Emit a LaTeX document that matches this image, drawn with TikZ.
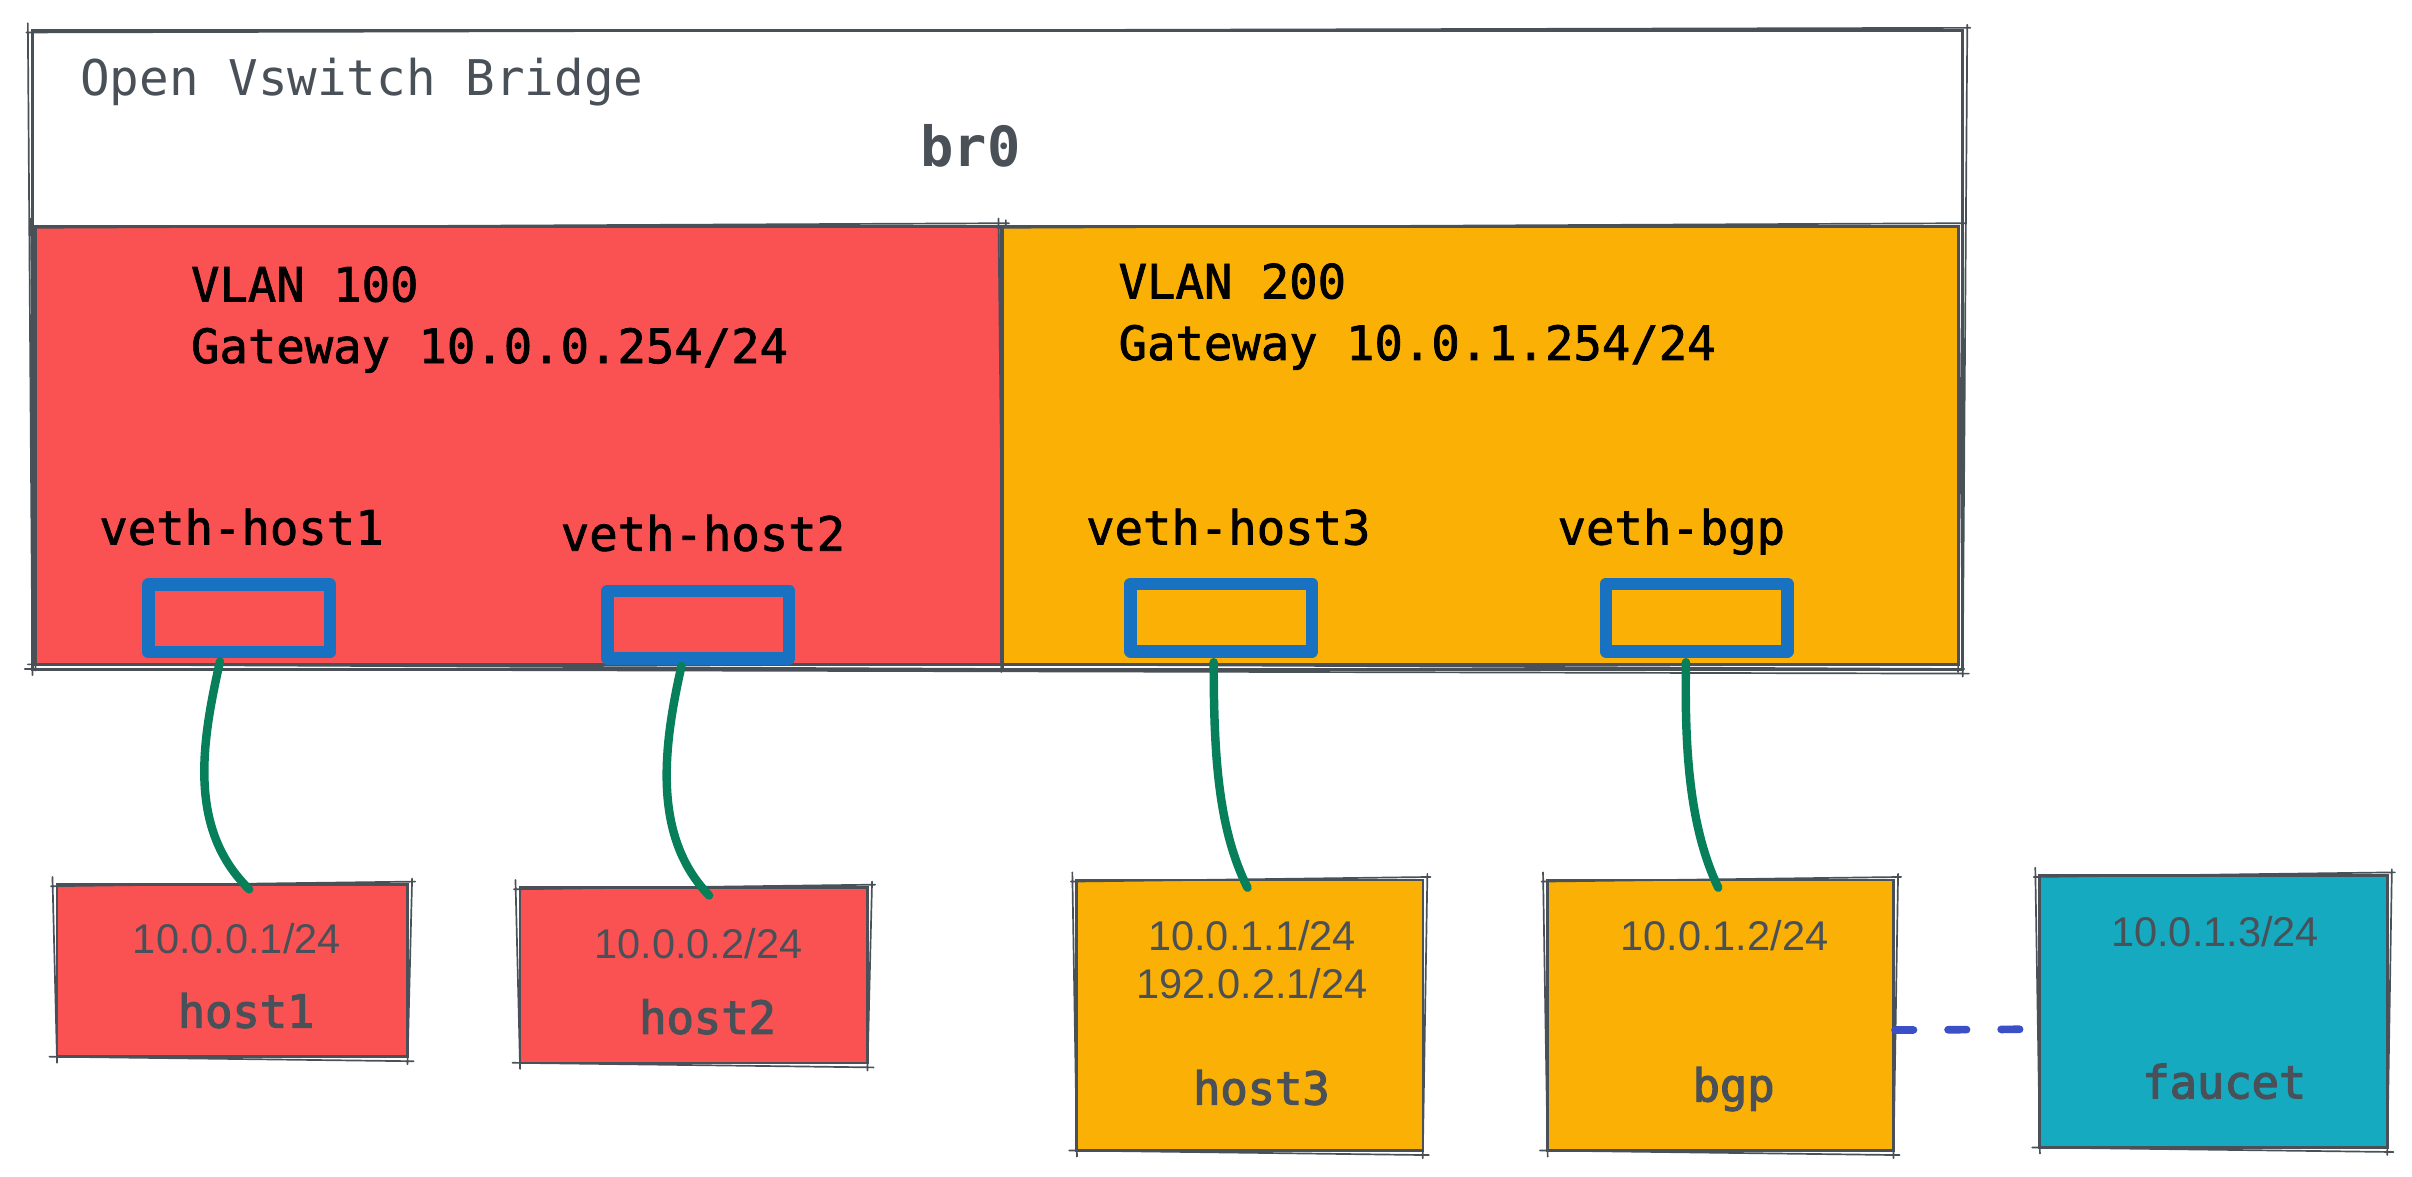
\documentclass[tikz,border=0pt]{standalone}
\usepackage{fontspec}
\setmainfont{Liberation Sans}
\setmonofont{DejaVu Sans Mono}
\newfontfamily\medmono[FakeBold=1.6]{DejaVu Sans Mono}
\newfontfamily\semimono[FakeBold=2.8]{DejaVu Sans Mono}
\definecolor{skgray}{HTML}{495057}
\definecolor{skred}{HTML}{FA5252}
\definecolor{skorange}{HTML}{FAB005}
\definecolor{skteal}{HTML}{15AABF}
\definecolor{skblue}{HTML}{1971C2}
\definecolor{skgreen}{HTML}{087F5B}
\definecolor{skdash}{HTML}{3B4FC7}
\newcommand{\skrect}[2][skgray]{%
  \draw[draw=#1, line width=1.1pt, line cap=round]
    ([shift={(-3,2)}]#2.north west) -- ([shift={(4,-1)}]#2.north east)
    ([shift={(2,-3)}]#2.north east) -- ([shift={(-1,4)}]#2.south east)
    ([shift={(3,2)}]#2.south east) -- ([shift={(-4,-1)}]#2.south west)
    ([shift={(1,3)}]#2.south west) -- ([shift={(-2,-4)}]#2.north west);}
\begin{document}
\begin{tikzpicture}[x=1pt,y=-1pt,
  box/.style={draw=skgray, line width=1.8pt, rectangle, inner sep=0pt},
  vethbox/.style={draw=skblue, line width=8pt, line join=round, rectangle, inner sep=0pt, minimum width=118pt, minimum height=44pt},
  monotxt/.style={font=\medmono\fontsize{30.7}{40}\selectfont, text=black, inner sep=0pt},
  hostname/.style={font=\semimono\fontsize{29.5}{36}\selectfont, text=skgray, inner sep=0pt, anchor=base},
  iptxt/.style={font=\fontsize{27}{32}\selectfont, text=skgray, inner sep=0pt, anchor=base},
  wire/.style={draw=skgreen, line width=5.5pt, line cap=round},
  link/.style={draw=skdash, line width=5pt, line cap=round, dash pattern=on 12pt off 22.5pt}]
\useasboundingbox (0,0) rectangle (1568,765);
\fill[white] (0,0) rectangle (1568,765);

% bridge
\node[box, fill=white, minimum width=1255pt, minimum height=415pt] (br) at (648.5,227.5) {};
\skrect{br}
\node[font=\ttfamily\fontsize{32}{38}\selectfont, text=skgray, inner sep=0pt, anchor=base west] (title) at (52,62) {Open Vswitch Bridge};
\node[font=\ttfamily\bfseries\fontsize{36}{40}\selectfont, text=skgray, inner sep=0pt, anchor=base] (brlabel) at (631,108) {br0};

% VLANs
\node[box, fill=skred, minimum width=628pt, minimum height=285pt] (vl100) at (337,289.5) {};
\skrect{vl100}
\node[box, fill=skorange, minimum width=621pt, minimum height=285pt] (vl200) at (962.5,289.5) {};
\skrect{vl200}
\node[monotxt, anchor=base west] (vl100a) at (124,196) {VLAN 100};
\node[monotxt, anchor=base west] (vl100b) at (124,236) {Gateway 10.0.0.254/24};
\node[monotxt, anchor=base west] (vl200a) at (727,194) {VLAN 200};
\node[monotxt, anchor=base west] (vl200b) at (727,234) {Gateway 10.0.1.254/24};

% veth ports
\node[vethbox] (v1) at (155.5,402) {};
\node[vethbox] (v2) at (454,406) {};
\node[vethbox] (v3) at (794,401.5) {};
\node[vethbox] (vb) at (1103,401.5) {};
\node[monotxt, anchor=base] (v1l) at (157,354) {veth-host1};
\node[monotxt, anchor=base] (v2l) at (457,358) {veth-host2};
\node[monotxt, anchor=base] (v3l) at (798.5,354) {veth-host3};
\node[monotxt, anchor=base] (vbl) at (1086.5,354) {veth-bgp};

% hosts
\node[box, fill=skred, minimum width=228pt, minimum height=112pt] (h1) at (151,631) {};
\skrect{h1}
\node[box, fill=skred, minimum width=226pt, minimum height=114pt] (h2) at (451,634) {};
\skrect{h2}
\node[box, fill=skorange, minimum width=225pt, minimum height=176pt] (h3) at (812.5,660) {};
\skrect{h3}
\node[box, fill=skorange, minimum width=225pt, minimum height=176pt] (bgp) at (1118.5,660) {};
\skrect{bgp}
\node[box, fill=skteal, minimum width=226pt, minimum height=177pt] (fc) at (1439,657.5) {};
\skrect{fc}

\node[iptxt] (h1ip) at (154,620) {10.0.0.1/24};
\node[hostname] (h1n) at (160,668) {host1};
\node[iptxt] (h2ip) at (454,623) {10.0.0.2/24};
\node[hostname] (h2n) at (460,672) {host2};
\node[iptxt] (h3ip) at (814,618) {10.0.1.1/24};
\node[iptxt] (h3ipb) at (814,649) {192.0.2.1/24};
\node[hostname] (h3n) at (820,718) {host3};
\node[iptxt] (bgpip) at (1121,618) {10.0.1.2/24};
\node[hostname] (bgpn) at (1127,716) {bgp};
\node[iptxt] (fcip) at (1440,615) {10.0.1.3/24};
\node[hostname] (fcn) at (1446,714) {faucet};

% connectors
\coordinate (w1s) at ([shift={(-12.5,2)}]v1.south);
\coordinate (w1e) at ([shift={(11,4)}]h1.north);
\coordinate (w2s) at ([shift={(-11,1)}]v2.south);
\coordinate (w2e) at ([shift={(10,6)}]h2.north);
\coordinate (w3s) at ([shift={(-5,3)}]v3.south);
\coordinate (w3e) at ([shift={(-1.5,6)}]h3.north);
\coordinate (w4s) at ([shift={(-7,3)}]vb.south);
\coordinate (w4e) at ([shift={(-1.5,6)}]bgp.north);
\draw[wire] (w1s) .. controls +(-12,53) and +(-40,-39) .. (w1e);
\draw[wire] (w2s) .. controls +(-12,53) and +(-37,-38) .. (w2e);
\draw[wire] (w3s) .. controls +(0,61) and +(-19,-38) .. (w3e);
\draw[wire] (w4s) .. controls +(-1,61) and +(-18,-38) .. (w4e);

\coordinate (dl1) at ([shift={(0,9.6)}]bgp.east);
\coordinate (dl2) at ([shift={(10,11.5)}]fc.west);
\draw[link] (dl1) -- (dl2);
\end{tikzpicture}
\end{document}
